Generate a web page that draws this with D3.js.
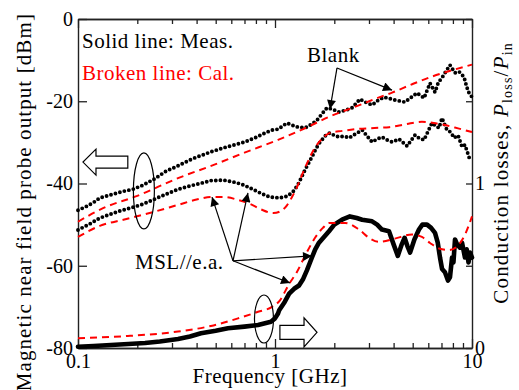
<!DOCTYPE html>
<html><head><meta charset="utf-8">
<script src="https://cdn.jsdelivr.net/npm/d3@7"></script>
<style>
html,body{margin:0;padding:0;background:#fff;}
text{font-family:"Liberation Serif","Times New Roman",serif;}
</style></head>
<body><svg id="c" width="519" height="390"></svg>
<script>
// ---- data (frequency GHz, value) ----
const blankMeas = [[0.1,-46.5],[0.11,-45.6],[0.12,-44.6],[0.129,-43.5],[0.15,-42.6],[0.17,-41.9],[0.19,-41.4],[0.214,-40.4],[0.246,-38.8],[0.28,-37.0],[0.322,-35.7],[0.38,-34.0],[0.473,-32.3],[0.56,-31.2],[0.704,-29.9],[0.8,-28.8],[0.9,-27.6],[0.966,-27.0],[1.036,-26.8],[1.15,-25.3],[1.28,-26.2],[1.42,-26.5],[1.53,-25.6],[1.634,-24.6],[1.75,-22.8],[1.836,-21.6],[1.95,-21.9],[2.11,-22.6],[2.28,-22.2],[2.46,-21.6],[2.70,-19.5],[2.9,-20.3],[3.11,-20.9],[3.33,-19.8],[3.575,-19.0],[4.06,-19.7],[4.57,-20.2],[4.9,-19.1],[5.26,-18.0],[5.71,-19.2],[6.12,-15.6],[6.49,-17.8],[6.75,-15.4],[7.04,-14.3],[7.4,-12.6],[7.73,-11.2],[8.2,-13.1],[8.6,-12.8],[9.11,-14.1],[9.4,-16.5],[9.66,-18.0],[10,-19.0]];
const mslMeas = [[0.1,-51.3],[0.115,-49.8],[0.129,-48.4],[0.16,-46.8],[0.19,-45.8],[0.214,-45.0],[0.25,-43.6],[0.29,-42.3],[0.322,-41.4],[0.37,-40.6],[0.416,-40.0],[0.473,-39.3],[0.55,-39.2],[0.612,-39.6],[0.68,-40.2],[0.747,-41.1],[0.85,-42.4],[0.943,-43.3],[1.06,-43.5],[1.15,-43.1],[1.23,-42.1],[1.3,-40.5],[1.36,-38.6],[1.42,-36.7],[1.49,-34.8],[1.56,-33.0],[1.62,-31.4],[1.69,-30.0],[1.8,-28.4],[1.9,-27.7],[2.0,-28.3],[2.11,-28.7],[2.25,-28.5],[2.38,-28.9],[2.55,-28.0],[2.77,-27.0],[2.95,-28.6],[3.11,-29.9],[3.3,-29.2],[3.49,-28.7],[3.7,-29.4],[3.93,-29.9],[4.26,-29.2],[4.68,-30.9],[5.14,-28.2],[5.4,-29.0],[5.71,-29.4],[6.26,-25.3],[6.8,-26.5],[7.04,-24.1],[7.46,-27.0],[7.8,-27.5],[8.11,-28.9],[8.5,-28.3],[8.9,-31.1],[9.21,-30.6],[9.77,-34.3]];
const blankCal = [[0.1,-49.3],[0.134,-46.0],[0.2,-43.0],[0.322,-38.7],[0.5,-35.3],[0.7,-32.5],[1.036,-29.4],[1.4,-26.7],[1.88,-23.8],[2.6,-21.2],[3.4,-19.0],[3.93,-17.9],[5.0,-15.8],[6.26,-14.0],[8.0,-12.4],[10,-11.1]];
const mslCal = [[0.1,-53.0],[0.129,-50.3],[0.17,-48.8],[0.214,-47.6],[0.322,-45.2],[0.4,-43.9],[0.47,-43.3],[0.55,-43.3],[0.65,-44.0],[0.75,-45.0],[0.85,-46.3],[0.98,-47.2],[1.08,-46.6],[1.15,-45.3],[1.22,-43.3],[1.29,-41.0],[1.38,-37.6],[1.49,-34.0],[1.58,-31.6],[1.67,-30.0],[1.78,-28.6],[1.9,-27.7],[2.2,-27.2],[2.55,-26.8],[3.2,-26.5],[3.8,-26.3],[4.6,-25.6],[5.57,-25.0],[6.4,-25.3],[7.3,-25.8],[8.5,-26.6],[10,-27.5]];
const lossMeas = [[0.1,0.008],[0.12,0.012],[0.147,0.018],[0.18,0.024],[0.219,0.03],[0.26,0.04],[0.322,0.055],[0.37,0.07],[0.421,0.09],[0.5,0.105],[0.577,0.12],[0.7,0.13],[0.82,0.14],[0.954,0.16],[1.0,0.18],[1.036,0.21],[1.05,0.23],[1.12,0.28],[1.18,0.33],[1.25,0.36],[1.324,0.38],[1.39,0.42],[1.45,0.47],[1.54,0.55],[1.6,0.6],[1.672,0.64],[1.88,0.71],[2.0,0.75],[2.19,0.78],[2.4,0.80],[2.6,0.79],[2.77,0.78],[3.11,0.77],[3.3,0.75],[3.49,0.72],[3.79,0.71],[4.0,0.63],[4.2,0.56],[4.4,0.63],[4.55,0.67],[4.7,0.62],[4.85,0.58],[5.1,0.66],[5.38,0.72],[5.6,0.75],[5.91,0.75],[6.2,0.73],[6.49,0.70],[6.7,0.64],[6.88,0.55],[7.05,0.48],[7.29,0.46],[7.55,0.41],[7.73,0.43],[7.92,0.55],[8.05,0.52],[8.2,0.66],[8.4,0.63],[8.69,0.61],[8.9,0.64],[9.21,0.55],[9.4,0.6],[9.6,0.52],[9.77,0.58],[10,0.55]];
const lossCal = [[0.1,0.06],[0.179,0.073],[0.322,0.10],[0.473,0.134],[0.649,0.18],[0.82,0.22],[0.966,0.25],[1.06,0.29],[1.18,0.39],[1.29,0.46],[1.42,0.56],[1.597,0.67],[1.75,0.73],[1.88,0.76],[2.27,0.76],[2.67,0.72],[3.0,0.67],[3.37,0.645],[4.06,0.665],[4.96,0.69],[5.57,0.675],[6.1,0.64],[6.8,0.605],[7.64,0.595],[8.59,0.63],[9.3,0.7],[10,0.8]];
const xMajor = [0.1, 1, 10];
const xMinor = [0.2,0.3,0.4,0.5,0.6,0.7,0.8,0.9,2,3,4,5,6,7,8,9];
const yLeftTicks = [0,-20,-40,-60,-80];
const yRightTicks = [0,0.5,1,1.5,2];
const yRightLabels = [0,1];

const svg = d3.select("#c");
svg.append("rect").attr("width",519).attr("height",390).attr("fill","#fff");
const L=78,R=472,T=19,B=348;
const x = d3.scaleLog().domain([0.1,10]).range([L,R]);
const yL = d3.scaleLinear().domain([-80,0]).range([B,T]);
const yR = d3.scaleLinear().domain([0,2]).range([B,T]);
const FONT = "Liberation Serif";
const FS = 21, TFS = 20, LS = 0.5;

function styleAxis(g){
  g.select(".domain").attr("stroke","#222").attr("stroke-width",1.4);
  g.selectAll(".tick line").attr("stroke","#222").attr("stroke-width",1.3);
  g.selectAll("text").attr("font-family",FONT).attr("font-size",TFS).attr("fill","#000");
}
// bottom
svg.append("g").attr("transform",`translate(0,${B})`)
  .call(d3.axisBottom(x).tickValues(xMinor).tickSizeInner(-5).tickSizeOuter(0).tickFormat(""))
  .call(styleAxis);
svg.append("g").attr("transform",`translate(0,${B})`)
  .call(d3.axisBottom(x).tickValues(xMajor).tickSizeInner(-9).tickSizeOuter(0).tickPadding(6).tickFormat(d=>String(d)))
  .call(styleAxis);
// top
svg.append("g").attr("transform",`translate(0,${T})`)
  .call(d3.axisTop(x).tickValues(xMinor).tickSizeInner(-5).tickSizeOuter(0).tickFormat(""))
  .call(styleAxis);
svg.append("g").attr("transform",`translate(0,${T})`)
  .call(d3.axisTop(x).tickValues(xMajor).tickSizeInner(-9).tickSizeOuter(0).tickFormat(""))
  .call(styleAxis);
// left
svg.append("g").attr("transform",`translate(${L},0)`)
  .call(d3.axisLeft(yL).tickValues(yLeftTicks).tickSizeInner(-9).tickSizeOuter(0).tickPadding(5).tickFormat(d=>String(d)))
  .call(styleAxis);
// right
svg.append("g").attr("transform",`translate(${R},0)`)
  .call(d3.axisRight(yR).tickValues(yRightTicks).tickSizeInner(-6).tickSizeOuter(0).tickPadding(3).tickFormat(d=>yRightLabels.includes(d)?String(d):""))
  .call(styleAxis);

// lines
const lineL = d3.line().x(d=>x(d[0])).y(d=>yL(d[1]));
const lineR = d3.line().x(d=>x(d[0])).y(d=>yR(d[1]));
const smoothL = d3.line().x(d=>x(d[0])).y(d=>yL(d[1])).curve(d3.curveMonotoneX);
const smoothR = d3.line().x(d=>x(d[0])).y(d=>yR(d[1])).curve(d3.curveMonotoneX);

function meas(data, gen){
  svg.append("path").attr("d",gen(data)).attr("fill","none").attr("stroke","#000")
    .attr("stroke-width",3.9).attr("stroke-linecap","round").attr("stroke-linejoin","round")
    .attr("stroke-dasharray","0 4.6");
}
function cal(data, gen){
  svg.append("path").attr("d",gen(data)).attr("fill","none").attr("stroke","#ff0000")
    .attr("stroke-width",2).attr("stroke-dasharray","7 5");
}
meas(blankMeas,lineL);
meas(mslMeas,lineL);
svg.append("path").attr("d",lineR(lossMeas)).attr("fill","none").attr("stroke","#000")
  .attr("stroke-width",4.6).attr("stroke-linejoin","round").attr("stroke-linecap","round");
cal(blankCal,smoothL);
cal(mslCal,smoothL);
cal(lossCal,smoothR);

function txt(xp,yp,s,color){
  return svg.append("text").attr("x",xp).attr("y",yp).attr("font-family",FONT).attr("font-size",FS)
    .attr("letter-spacing",LS).attr("fill",color||"#000").text(s);
}
// legend texts
txt(82,48,"Solid line: Meas.");
txt(82,80,"Broken line: Cal.","#ff0000");

// annotation arrows (data coordinates)
const defs = svg.append("defs");
defs.append("marker").attr("id","ah").attr("viewBox","0 0 10 10").attr("refX",10).attr("refY",5)
  .attr("markerWidth",12).attr("markerHeight",9).attr("markerUnits","userSpaceOnUse").attr("orient","auto")
  .append("path").attr("d","M0,0 L10,5 L0,10 z").attr("fill","#000");

const blankLabel = {f:1.454, v:-10.5, text:"Blank"};
const blankFrom = [2.064,-11.9];
const blankTips = [[1.902,-21.9],[3.926,-17.3]];
const mslLabel = {f:0.1947, v:-60.8, text:"MSL//e.a."};
const mslFrom = [0.612,-58.8];
const mslTips = [[0.479,-43.3],[0.729,-42.3],[1.541,-57.6],[1.192,-64.2]];

txt(x(blankLabel.f),yL(blankLabel.v),blankLabel.text);
txt(x(mslLabel.f),yL(mslLabel.v),mslLabel.text);
function arrows(from, tips){
  tips.forEach(t=>{
    svg.append("line").attr("x1",x(from[0])).attr("y1",yL(from[1])).attr("x2",x(t[0])).attr("y2",yL(t[1]))
      .attr("stroke","#000").attr("stroke-width",1.2).attr("marker-end","url(#ah)");
  });
}
arrows(blankFrom, blankTips);
arrows(mslFrom, mslTips);

// ellipses
const ellipses = [{f:0.216, v:-41.8, rx:10.5, ry:38},{f:0.879, v:-72.95, rx:9.5, ry:24}];
ellipses.forEach(e=>{
  svg.append("ellipse").attr("cx",x(e.f)).attr("cy",yL(e.v)).attr("rx",e.rx).attr("ry",e.ry)
    .attr("fill","none").attr("stroke","#000").attr("stroke-width",1.2);
});

// block arrows
function blockArrow(fTail,fBase,fTip,v,hh,sh){
  const xt=x(fTail), xb=x(fBase), xp=x(fTip), y=yL(v);
  const pts=[[xt,y-sh],[xb,y-sh],[xb,y-hh],[xp,y],[xb,y+hh],[xb,y+sh],[xt,y+sh]];
  svg.append("polygon").attr("points",pts.map(p=>p.join(",")).join(" "))
    .attr("fill","#fff").attr("stroke","#000").attr("stroke-width",1.2);
}
blockArrow(0.179,0.1234,0.106,-34.8,13,6);
blockArrow(1.059,1.404,1.634,-76.2,14.5,7);

// axis titles
svg.append("text").attr("transform","translate(31,13) rotate(-90)").attr("text-anchor","end")
  .attr("font-family",FONT).attr("font-size",FS).attr("letter-spacing",1.1).text("Magnetic near field probe output [dBm]");
const rt = svg.append("text").attr("transform","translate(508,42) rotate(-90)").attr("text-anchor","end")
  .attr("font-family",FONT).attr("font-size",FS).attr("letter-spacing",1.2);
rt.append("tspan").text("Conduction losses, ");
rt.append("tspan").attr("font-style","italic").text("P");
rt.append("tspan").attr("font-size",14).attr("dy",4).text("loss");
rt.append("tspan").attr("dy",-4).text("/");
rt.append("tspan").attr("font-style","italic").text("P");
rt.append("tspan").attr("font-size",14).attr("dy",4).text("in");
svg.append("text").attr("x",270).attr("y",383).attr("text-anchor","middle").attr("font-family",FONT)
  .attr("font-size",FS).attr("letter-spacing",LS).text("Frequency [GHz]");
</script></body></html>
